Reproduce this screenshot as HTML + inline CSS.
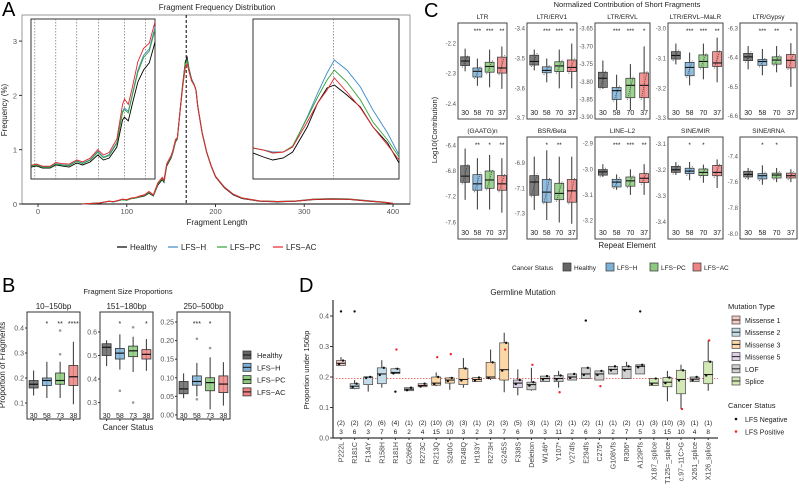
<!DOCTYPE html>
<html><head><meta charset="utf-8"><style>
html,body{margin:0;padding:0;background:#fff;}
svg{display:block;font-family:"Liberation Sans",Arial,sans-serif;}
</style></head><body>
<svg id="fig" width="799" height="496" viewBox="0 0 799 496" xmlns="http://www.w3.org/2000/svg"></svg>
<script>
// ---------- Panel A data ----------
const aLengths = [50,70,80,85,90,95,100,105,110,115,120,125,130,135,140,142,145,150,152,155,157,160,163,166,168,170,173,176,178,180,185,190,195,200,210,220,230,250,270,290,310,330,350,370,390,400];
const aHealthy = [0,0.02,0.05,0.04,0.06,0.08,0.07,0.1,0.11,0.13,0.15,0.2,0.15,0.35,0.45,0.4,0.7,0.85,0.95,1.15,1.2,1.7,2.2,2.62,2.7,2.5,2.3,2.2,2.1,1.8,1.3,0.95,0.7,0.5,0.3,0.17,0.1,0.05,0.04,0.05,0.08,0.09,0.085,0.055,0.03,0.01];
const aLfsH =    [0,0.02,0.05,0.04,0.06,0.08,0.07,0.1,0.11,0.14,0.16,0.21,0.16,0.37,0.47,0.42,0.72,0.87,0.97,1.17,1.21,1.7,2.18,2.58,2.65,2.48,2.29,2.2,2.1,1.8,1.31,0.96,0.71,0.51,0.31,0.18,0.11,0.055,0.045,0.055,0.09,0.1,0.095,0.065,0.035,0.012];
const aLfsPC =   [0,0.02,0.05,0.04,0.06,0.08,0.07,0.1,0.11,0.14,0.16,0.21,0.16,0.37,0.47,0.42,0.72,0.87,0.97,1.17,1.21,1.7,2.18,2.57,2.64,2.47,2.28,2.19,2.1,1.8,1.31,0.96,0.71,0.51,0.31,0.18,0.11,0.055,0.045,0.055,0.088,0.098,0.092,0.062,0.033,0.011];
const aLfsAC =   [0,0.02,0.05,0.045,0.065,0.09,0.08,0.11,0.12,0.15,0.17,0.23,0.17,0.39,0.49,0.44,0.74,0.89,0.99,1.19,1.22,1.7,2.15,2.52,2.58,2.45,2.27,2.19,2.1,1.8,1.31,0.96,0.71,0.51,0.31,0.18,0.11,0.055,0.045,0.053,0.085,0.093,0.088,0.06,0.032,0.011];
const aPeak = 167;
const insetLLengths = [70,73,76,80,83,86,90,94,97,101,105,108,111,115,118,119,121,123,126,129,132,135];
const insetLHealthy = [0.0225,0.0244,0.0206,0.0206,0.0263,0.0244,0.0225,0.030,0.0263,0.0319,0.045,0.0356,0.0394,0.06,0.111,0.116,0.109,0.139,0.182,0.2045,0.218,0.257];
const insetLLfsH =    [0.025,0.027,0.023,0.023,0.029,0.027,0.026,0.034,0.030,0.036,0.052,0.041,0.046,0.069,0.127,0.133,0.127,0.158,0.204,0.232,0.244,0.285];
const insetLLfsPC =   [0.024,0.026,0.022,0.022,0.028,0.026,0.025,0.033,0.029,0.035,0.05,0.04,0.044,0.067,0.125,0.13,0.124,0.155,0.2,0.228,0.24,0.28];
const insetLLfsAC =   [0.026,0.028,0.024,0.024,0.031,0.029,0.028,0.036,0.032,0.039,0.055,0.045,0.05,0.075,0.14,0.15,0.14,0.17,0.22,0.245,0.255,0.295];
const insetLMarks = [72,83,94,105.5,119,130];
const insetRLengths = [260,270,279,289,298,312,322,331,338,350,363,375,389,400];
const insetRHealthy = [0.043,0.041,0.0395,0.0405,0.0435,0.056,0.068,0.0755,0.077,0.072,0.066,0.056,0.048,0.038];
const insetRLfsH =    [0.0455,0.0445,0.0435,0.0435,0.046,0.061,0.073,0.083,0.0895,0.0845,0.076,0.0645,0.053,0.042];
const insetRLfsPC =   [0.0455,0.0445,0.043,0.0435,0.0465,0.0605,0.071,0.0795,0.0845,0.0785,0.0695,0.0585,0.0495,0.041];
const insetRLfsAC =   [0.0455,0.0445,0.043,0.0435,0.046,0.0585,0.068,0.0745,0.0805,0.0735,0.0655,0.056,0.047,0.0395];
const aXTicks = [0,100,200,300,400];
const aYTicks = [0,1,2,3];

// ---------- Panel B data ----------
const bPanels = ["10–150bp","151–180bp","250–500bp"];
const bTicks = [["0.1","0.2","0.3","0.4"],["0.3","0.4","0.5","0.6"],["0.00","0.05","0.10","0.15","0.20","0.25"]];
const bTickVals = [[0.1,0.2,0.3,0.4],[0.3,0.4,0.5,0.6],[0,0.05,0.1,0.15,0.2,0.25]];
const bDomains = [[0.036,0.464],[0.23,0.685],[-0.011,0.277]];
// [lo, q1, med, q3, hi]
const bBoxes = [
 [[0.13,0.16,0.175,0.19,0.23],[0.12,0.17,0.19,0.2,0.265],[0.12,0.175,0.19,0.22,0.265],[0.095,0.17,0.205,0.25,0.345]],
 [[0.455,0.5,0.535,0.55,0.565],[0.44,0.485,0.51,0.53,0.59],[0.43,0.495,0.52,0.54,0.58],[0.435,0.485,0.505,0.525,0.57]],
 [[0.045,0.057,0.07,0.09,0.112],[0.05,0.08,0.09,0.105,0.14],[0.015,0.065,0.087,0.1,0.155],[0.025,0.06,0.083,0.105,0.142]]];
const bOutliers = [[[],[],[0.39,0.295],[]],[[],[0.35],[0.62,0.3],[]],[[],[0.205,0.042],[0.18],[]]];
const bStars = [["","*","**","****"],["","*","","*"],["","***","*",""]];
const bCounts = ["30","58","73","38"];

// ---------- Panel C data ----------
const cNames = ["LTR","LTR/ERV1","LTR/ERVL","LTR/ERVL–MaLR","LTR/Gypsy","(GAATG)n","BSR/Beta","LINE–L2","SINE/MIR","SINE/tRNA"];
const cDomains = [[-2.132,-2.45],[-3.381,-3.703],[-3.634,-3.905],[-2.981,-3.303],[-6.281,-6.61],[-6.27,-7.86],[-6.695,-7.5],[-2.874,-3.272],[-3.074,-3.466],[-7.251,-8.039]];
const cTicks = [[-2.2,-2.3,-2.4],[-3.4,-3.5,-3.6,-3.7],[-3.65,-3.70,-3.75,-3.80,-3.85,-3.90],[-3.0,-3.1,-3.2,-3.3],[-6.3,-6.4,-6.5,-6.6],[-6.4,-6.8,-7.2,-7.6],[-6.9,-7.1,-7.3],[-2.9,-3.0,-3.1,-3.2],[-3.1,-3.2,-3.3,-3.4],[-7.4,-7.6,-7.8,-8.0]];
const cTickLabels = [["-2.2","-2.3","-2.4"],["-3.4","-3.5","-3.6","-3.7"],["-3.65","-3.70","-3.75","-3.80","-3.85","-3.90"],["-3.0","-3.1","-3.2","-3.3"],["-6.3","-6.4","-6.5","-6.6"],["-6.4","-6.8","-7.2","-7.6"],["-6.9","-7.1","-7.3"],["-2.9","-3.0","-3.1","-3.2"],["-3.1","-3.2","-3.3","-3.4"],["-7.4","-7.6","-7.8","-8.0"]];
// [hi, q3, med, q1, lo] (higher value first)
const cBoxes = [
 [[-2.217,-2.244,-2.258,-2.273,-2.292],[-2.25,-2.281,-2.292,-2.311,-2.34],[-2.22,-2.262,-2.276,-2.295,-2.345],[-2.21,-2.245,-2.281,-2.298,-2.35]],
 [[-3.47,-3.489,-3.51,-3.522,-3.54],[-3.5,-3.528,-3.54,-3.548,-3.58],[-3.47,-3.511,-3.525,-3.544,-3.6],[-3.45,-3.505,-3.53,-3.544,-3.6]],
 [[-3.74,-3.773,-3.79,-3.816,-3.82],[-3.78,-3.816,-3.825,-3.85,-3.88],[-3.75,-3.79,-3.81,-3.845,-3.88],[-3.7,-3.775,-3.81,-3.845,-3.88]],
 [[-3.05,-3.077,-3.09,-3.102,-3.12],[-3.08,-3.113,-3.13,-3.158,-3.19],[-3.05,-3.088,-3.11,-3.13,-3.17],[-3.03,-3.077,-3.115,-3.127,-3.18]],
 [[-6.36,-6.385,-6.397,-6.41,-6.44],[-6.37,-6.406,-6.413,-6.426,-6.46],[-6.36,-6.397,-6.408,-6.422,-6.45],[-6.35,-6.389,-6.409,-6.435,-6.5]],
 [[-6.45,-6.717,-6.88,-6.977,-7.25],[-6.6,-6.857,-7.0,-7.1,-7.4],[-6.55,-6.8,-6.94,-7.07,-7.4],[-6.6,-6.87,-7.0,-7.1,-7.45]],
 [[-6.85,-7.0,-7.05,-7.155,-7.27],[-6.8,-7.03,-7.13,-7.21,-7.35],[-6.85,-7.06,-7.14,-7.19,-7.37],[-6.85,-7.03,-7.12,-7.21,-7.38]],
 [[-2.98,-3.001,-3.01,-3.023,-3.03],[-3.02,-3.039,-3.05,-3.069,-3.08],[-3.0,-3.03,-3.045,-3.066,-3.1],[-2.98,-3.017,-3.035,-3.052,-3.1]],
 [[-3.17,-3.187,-3.2,-3.21,-3.22],[-3.17,-3.194,-3.205,-3.215,-3.24],[-3.18,-3.197,-3.21,-3.222,-3.25],[-3.16,-3.183,-3.21,-3.223,-3.27]],
 [[-7.49,-7.516,-7.54,-7.56,-7.58],[-7.47,-7.534,-7.55,-7.575,-7.62],[-7.49,-7.53,-7.545,-7.568,-7.6],[-7.5,-7.53,-7.55,-7.568,-7.6]]];
const cStars = [["","***","***","**"],["","***","***","**"],["","***","***","*"],["","***","***","**"],["","***","**","*"],["","**","*","**"],["","*","**",""],["","***","***","**"],["","*","*",""],["","*","*",""]];
const cCounts = ["30","58","70","37"];

// ---------- Panel D data ----------
const dNames = ["P222L","R181C","F134Y","R158H","R181H","G266R","R273C","R213Q","S240G","R248Q","H193Y","R273H","G245S","F338S","Deletion","W146*","Y107*","V274fs","E294fs","C275*","G108Vfs","R306*","A129Pfs","X187_splice","T125=_splice","c.97−11C>G","X261_splice","X126_splice"];
const dTypes = ["M1","M2","M2","M2","M2","LOF","M1","M3","M3","M3","M3","M3","M3","M5","LOF","LOF","LOF","LOF","LOF","LOF","LOF","LOF","LOF","SP","SP","SP","LOF","SP"];
const dLo =  [0.238,0.16,0.152,0.165,0.211,0.155,0.168,0.17,0.158,0.165,0.185,0.19,0.15,0.14,0.155,0.185,0.165,0.19,0.195,0.19,0.21,0.195,0.21,0.172,0.12,0.095,0.185,0.155];
const dQ1 =  [0.238,0.162,0.175,0.178,0.211,0.155,0.168,0.173,0.18,0.175,0.185,0.195,0.19,0.165,0.158,0.185,0.185,0.19,0.195,0.19,0.21,0.195,0.21,0.172,0.168,0.145,0.185,0.178];
const dMed = [0.245,0.17,0.2,0.21,0.215,0.16,0.172,0.18,0.19,0.192,0.192,0.2,0.224,0.18,0.175,0.195,0.195,0.2,0.21,0.21,0.225,0.225,0.235,0.18,0.183,0.192,0.193,0.208];
const dQ3 =  [0.254,0.178,0.2,0.23,0.227,0.165,0.178,0.2,0.197,0.228,0.198,0.248,0.312,0.19,0.183,0.203,0.205,0.21,0.23,0.22,0.235,0.235,0.24,0.195,0.198,0.222,0.2,0.25];
const dHi =  [0.265,0.19,0.2,0.255,0.23,0.165,0.178,0.215,0.2,0.262,0.198,0.29,0.345,0.225,0.23,0.203,0.22,0.21,0.23,0.22,0.235,0.25,0.24,0.195,0.22,0.24,0.2,0.32];
const dOutNeg = [0.415,0.415,null,null,0.152,null,null,null,null,null,null,null,null,null,null,null,null,null,0.385,null,null,null,0.415,null,null,null,null,null];
const dOutPos = [null,null,null,null,0.29,null,null,0.265,0.275,null,null,null,0.29,null,0.24,null,0.15,null,null,0.17,null,null,null,null,null,0.095,null,0.32];
const dParen = ["(2)","(2)","(2)","(6)","(4)","(1)","(2)","(10)","(3)","(3)","(1)","(2)","(3)","(5)","(3)","(1)","(2)","(1)","(2)","(1)","(1)","(2)","(1)","(3)","(10)","(3)","(1)","(1)"];
const dCounts = ["3","6","3","7","6","2","4","15","10","3","2","3","7","6","9","3","11","2","6","3","2","7","5","3","15","10","4","8"];
const dRef = 0.195;
const dTicks = [0,0.1,0.2,0.3,0.4];

// ---------- drawing ----------
const NS = "http://www.w3.org/2000/svg";
const svg = document.getElementById("fig");
function el(tag, attrs, parent) {
  const e = document.createElementNS(NS, tag);
  for (const k in attrs) e.setAttribute(k, attrs[k]);
  (parent || svg).appendChild(e);
  return e;
}
function txt(x, y, s, size, anchor, parent, fill, rot) {
  const t = el("text", {x: x, y: y, "font-size": size, "text-anchor": anchor || "middle", fill: fill || "#222"}, parent);
  if (rot) t.setAttribute("transform", "rotate(" + rot + " " + x + " " + y + ")");
  t.textContent = s;
  return t;
}
function poly(xs, ys, fx, fy, color, parent, w) {
  let d = "";
  for (let i = 0; i < xs.length; i++) d += (i ? "L" : "M") + fx(xs[i]).toFixed(2) + "," + fy(ys[i]).toFixed(2);
  return el("path", {d: d, fill: "none", stroke: color, "stroke-width": w || 1}, parent);
}
const cols = {H: "#000000", LH: "#3b8bc9", LPC: "#31a336", LAC: "#e8262a"};
const fills = ["#666666", "#7eb1d8", "#8ccb7e", "#f08283"];

// ===== Panel A =====
const gA = el("g", {});


const xA = v => 38 + v * 0.8875;
const yA = v => 204 - v * 54.3;
txt(2, 16, "A", 20, "start", gA, "#000");
txt(217, 10, "Fragment Frequency Distribution", 8, "middle", gA);
el("rect", {x: 22, y: 15, width: 388, height: 189, fill: "none", stroke: "#9a9a9a", "stroke-width": 1}, gA);
el("line", {x1: 22, y1: 204, x2: 410, y2: 204, stroke: "#000"}, gA);
aXTicks.forEach(v => {
  el("line", {x1: xA(v), y1: 204, x2: xA(v), y2: 207, stroke: "#333"}, gA);
  txt(xA(v), 214, String(v), 7.5, "middle", gA, "#555");
});
aYTicks.forEach(v => {
  el("line", {x1: 19, y1: yA(v), x2: 22, y2: yA(v), stroke: "#333"}, gA);
  txt(17, yA(v) + 3, String(v), 7.5, "end", gA, "#555");
});
txt(217, 225, "Fragment Length", 8, "middle", gA);
txt(7, 110, "Frequency (%)", 8, "middle", gA, "#222", -90);
el("line", {x1: xA(aPeak), y1: 15, x2: xA(aPeak), y2: 204, stroke: "#000", "stroke-dasharray": "3,2"}, gA);
[[aHealthy, cols.H], [aLfsH, cols.LH], [aLfsPC, cols.LPC], [aLfsAC, cols.LAC]].forEach(s => poly(aLengths, s[1] === undefined ? [] : s[0], xA, yA, s[1], gA, 1));
// left inset
const gIL = el("g", {}, gA);


el("rect", {x: 31, y: 19, width: 124, height: 160, fill: "#fff", stroke: "#333", "stroke-width": 1}, gIL);
const xIL = v => 31 + (v - 70) * 1.908;
const yIL = v => 179 - v * 533;
insetLMarks.forEach(m => el("line", {x1: xIL(m), y1: 19, x2: xIL(m), y2: 179, stroke: "#555", "stroke-width": 0.6, "stroke-dasharray": "1.5,1.5"}, gIL));
[[insetLHealthy, cols.H], [insetLLfsH, cols.LH], [insetLLfsPC, cols.LPC], [insetLLfsAC, cols.LAC]].forEach(s => poly(insetLLengths, s[0], xIL, yIL, s[1], gIL, 0.9));
// right inset
const gIR = el("g", {}, gA);


el("rect", {x: 253, y: 19, width: 146, height: 160, fill: "#fff", stroke: "#333", "stroke-width": 1}, gIR);
const xIR = v => 253 + (v - 260) * 1.043;
const yIR = v => 179 - (v - 0.03) * 2000;
el("line", {x1: xIR(337), y1: 19, x2: xIR(337), y2: 179, stroke: "#555", "stroke-width": 0.6, "stroke-dasharray": "1.5,1.5"}, gIR);
[[insetRHealthy, cols.H], [insetRLfsH, cols.LH], [insetRLfsPC, cols.LPC], [insetRLfsAC, cols.LAC]].forEach(s => poly(insetRLengths, s[0], xIR, yIR, s[1], gIR, 0.9));
// legend A
const legA = [["Healthy", cols.H, 117], ["LFS−H", cols.LH, 168], ["LFS−PC", cols.LPC, 217], ["LFS−AC", cols.LAC, 273]];
legA.forEach(l => {
  const g = el("g", {}, gA);
  
  
  el("line", {x1: l[2], y1: 247, x2: l[2] + 10, y2: 247, stroke: l[1], "stroke-width": 1.2}, g);
  txt(l[2] + 13, 250, l[0], 8, "start", g);
});

// ===== Panel B =====
const gB = el("g", {});


txt(2, 292, "B", 20, "start", gB, "#000");
txt(128, 294, "Fragment Size Proportions", 7.5, "middle", gB);
const bX = [27, 100, 177];
bPanels.forEach((name, p) => {
  const g = el("g", {}, gB);
  
  
  const x0 = bX[p], w = 53, top = 312, bot = 419;
  const dom = bDomains[p];
  const ys = v => bot - (v - dom[0]) / (dom[1] - dom[0]) * (bot - top);
  txt(x0 + w / 2, 309, name, 8, "middle", g);
  el("rect", {x: x0, y: top, width: w, height: bot - top, fill: "#fff", stroke: "#333"}, g);
  bTickVals[p].forEach((v, i) => {
    el("line", {x1: x0 - 2, y1: ys(v), x2: x0, y2: ys(v), stroke: "#333"}, g);
    txt(x0 - 3, ys(v) + 2.5, bTicks[p][i], 7, "end", g, "#555");
  });
  bBoxes[p].forEach((b, k) => {
    const cx = x0 + w * (k + 0.5) / 4, bw = 9;
    el("line", {x1: cx, y1: ys(b[0]), x2: cx, y2: ys(b[4]), stroke: "#333"}, g);
    const r = el("rect", {x: cx - bw / 2, y: ys(b[3]), width: bw, height: ys(b[1]) - ys(b[3]), fill: fills[k], "fill-opacity": 0.85, stroke: "#333", "stroke-width": 0.8}, g);
    
    
    el("line", {x1: cx - bw / 2, y1: ys(b[2]), x2: cx + bw / 2, y2: ys(b[2]), stroke: "#111", "stroke-width": 1.2}, g);
    bOutliers[p][k].forEach(o => el("circle", {cx: cx, cy: ys(o), r: 1.3, fill: "#999"}, g));
    el("line", {x1: cx, y1: bot, x2: cx, y2: bot + 2, stroke: "#333"}, g);
    txt(cx, 418, bCounts[k], 7, "middle", g);
    if (bStars[p][k]) txt(cx, 326, bStars[p][k], 7, "middle", g);
  });
});
txt(128, 430, "Cancer Status", 8, "middle", gB);
txt(5, 365, "Proportion of Fragments", 8, "middle", gB, "#222", -90);
["Healthy", "LFS−H", "LFS−PC", "LFS−AC"].forEach((n, k) => {
  const g = el("g", {}, gB);
  
  
  const y = 355 + k * 12.3;
  el("rect", {x: 243, y: y - 4, width: 8, height: 8, fill: fills[k], stroke: "#333", "stroke-width": 0.8}, g);
  el("line", {x1: 243, y1: y, x2: 251, y2: y, stroke: "#111"}, g);
  txt(257, y + 3, n, 7.5, "start", g);
});

// ===== Panel C =====
const gC = el("g", {});


txt(424, 17, "C", 20, "start", gC, "#000");
txt(627, 7, "Normalized Contribution of Short Fragments", 7.5, "middle", gC);
const cX = [458, 527, 595, 668, 740], cW = [49, 50, 55, 55, 57];
const cRow = [[23, 119], [137, 239]];
cNames.forEach((name, p) => {
  const g = el("g", {}, gC);
  
  
  const col = p % 5, row = Math.floor(p / 5);
  const x0 = cX[col], w = cW[col], top = cRow[row][0], bot = cRow[row][1];
  const dom = cDomains[p];
  const ys = v => top + (dom[0] - v) / (dom[0] - dom[1]) * (bot - top);
  txt(x0 + w / 2, top - 4, name, 6.5, "middle", g);
  el("rect", {x: x0, y: top, width: w, height: bot - top, fill: "#fff", stroke: "#444"}, g);
  cTicks[p].forEach((v, i) => txt(x0 - 2, ys(v) + 2, cTickLabels[p][i], 6, "end", g, "#555"));
  cBoxes[p].forEach((b, k) => {
    const cx = x0 + w * (k + 0.5) / 4 + 1, bw = 9;
    el("line", {x1: cx, y1: ys(b[0]), x2: cx, y2: ys(b[4]), stroke: "#333"}, g);
    el("rect", {x: cx - bw / 2, y: ys(b[1]), width: bw, height: ys(b[3]) - ys(b[1]), fill: fills[k], "fill-opacity": 0.85, stroke: "#333", "stroke-width": 0.7}, g);
    el("line", {x1: cx - bw / 2, y1: ys(b[2]), x2: cx + bw / 2, y2: ys(b[2]), stroke: "#111", "stroke-width": 1.1}, g);
    el("line", {x1: cx - 3, y1: ys(b[3]) + 2, x2: cx + 3, y2: ys(b[1]) - 2, stroke: "#333", "stroke-width": 0.7, "stroke-dasharray": "1,1"}, g);
    txt(cx, bot - 4, cCounts[k], 7, "middle", g);
    if (cStars[p][k]) txt(cx, top + 10, cStars[p][k], 6.5, "middle", g);
  });
});
txt(627, 248, "Repeat Element", 8, "middle", gC);
txt(437, 130, "Log10(Contribution)", 7.5, "middle", gC, "#222", -90);
txt(512, 270, "Cancer Status", 6.5, "start", gC);
[["Healthy", 563], ["LFS−H", 606], ["LFS−PC", 650], ["LFS−AC", 693]].forEach((l, k) => {
  const g = el("g", {}, gC);
  
  
  el("rect", {x: l[1], y: 263, width: 8, height: 8, fill: fills[k], stroke: "#333", "stroke-width": 0.7}, g);
  txt(l[1] + 11, 270, l[0], 6.5, "start", g);
});

// ===== Panel D =====
const gD = el("g", {});


txt(299, 292, "D", 20, "start", gD, "#000");
txt(523, 295, "Germline Mutation", 8, "middle", gD);
const typeFill = {M1: "#f6c9c5", M2: "#c5dce9", M3: "#fbd6a6", M5: "#ddd0e5", LOF: "#cfcfcf", SP: "#d3e8b6"};
const xD = i => 341 + i * 13.6;
const yD = v => 438 - v * 305;
el("line", {x1: 333, y1: 300, x2: 333, y2: 438, stroke: "#000"}, gD);
el("line", {x1: 333, y1: 438, x2: 718, y2: 438, stroke: "#000"}, gD);
dTicks.forEach(v => {
  el("line", {x1: 330, y1: yD(v), x2: 333, y2: yD(v), stroke: "#333"}, gD);
  txt(329, yD(v) + 2.5, v.toFixed(1), 7, "end", gD, "#555");
});
txt(309, 370, "Proportion under 150bp", 7.5, "middle", gD, "#222", -90);
el("line", {x1: 333, y1: yD(dRef), x2: 718, y2: yD(dRef), stroke: "#f07070", "stroke-dasharray": "1.5,1.5"}, gD);
dNames.forEach((n, i) => {
  const g = el("g", {}, gD);
  
  
  const cx = xD(i), bw = 9;
  el("line", {x1: cx, y1: yD(dLo[i]), x2: cx, y2: yD(dHi[i]), stroke: "#333"}, g);
  el("rect", {x: cx - bw / 2, y: yD(dQ3[i]), width: bw, height: Math.max(1, yD(dQ1[i]) - yD(dQ3[i])), fill: typeFill[dTypes[i]], stroke: "#444", "stroke-width": 0.7}, g);
  el("line", {x1: cx - bw / 2, y1: yD(dMed[i]), x2: cx + bw / 2, y2: yD(dMed[i]), stroke: "#111"}, g);
  el("circle", {cx: cx - 2, cy: yD(dMed[i]) + 1, r: 1.2, fill: "#111"}, g);
  el("circle", {cx: cx + 2, cy: yD(dQ3[i]), r: 1.2, fill: "#111"}, g);
  if (dOutNeg[i] !== null) el("circle", {cx: cx, cy: yD(dOutNeg[i]), r: 1.2, fill: "#111"}, g);
  if (dOutPos[i] !== null) el("circle", {cx: cx + 1, cy: yD(dOutPos[i]), r: 1.2, fill: "#f02828"}, g);
  txt(cx, 425, dParen[i], 6.5, "middle", g);
  txt(cx, 434, dCounts[i], 6.5, "middle", g);
  el("line", {x1: cx, y1: 438, x2: cx, y2: 440, stroke: "#333"}, g);
  txt(cx + 2.5, 442, n, 7, "end", g, "#444", -90);
});
txt(728, 309, "Mutation Type", 7.5, "start", gD);
[["Missense 1", "M1"], ["Missense 2", "M2"], ["Missense 3", "M3"], ["Missense 5", "M5"], ["LOF", "LOF"], ["Splice", "SP"]].forEach((l, k) => {
  const g = el("g", {}, gD);
  
  
  const y = 320 + k * 12.2;
  el("rect", {x: 732, y: y - 4, width: 8, height: 8, fill: typeFill[l[1]], stroke: "#444", "stroke-width": 0.7}, g);
  el("line", {x1: 732, y1: y, x2: 740, y2: y, stroke: "#222"}, g);
  txt(745, y + 3, l[0], 7, "start", g);
});
txt(728, 408, "Cancer Status", 7.5, "start", gD);
[["LFS Negative", "#111"], ["LFS Positive", "#f02828"]].forEach((l, k) => {
  const g = el("g", {}, gD);
  
  
  const y = 419 + k * 12.5;
  el("circle", {cx: 736, cy: y, r: 1.3, fill: l[1]}, g);
  txt(745, y + 3, l[0], 7, "start", g);
});
</script>
</body></html>
